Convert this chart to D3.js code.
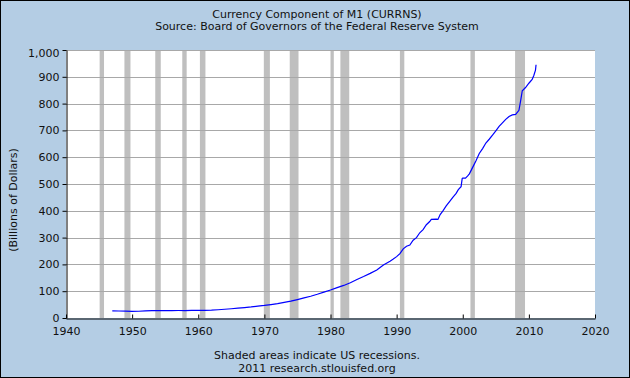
<!DOCTYPE html>
<html>
<head>
<meta charset="utf-8">
<script src="https://cdn.jsdelivr.net/npm/d3@7"></script>
<style>
  body { margin: 0; }
  svg text { font-family: "DejaVu Sans", Verdana, sans-serif; font-size: 11px; fill: #111; }
</style>
</head>
<body>
<div id="chart"></div>
<script>
var width = 630, height = 378;

// currency component of M1, billions of dollars
var dates = ['1947-01','1948-01','1949-01','1950-01','1951-01','1952-01','1953-01','1954-01','1955-01','1956-01',
  '1957-01','1958-01','1959-01','1960-01','1961-01','1962-01','1963-01','1964-01','1965-01','1966-01',
  '1967-01','1968-01','1969-01','1970-01','1971-01','1972-01','1973-01','1974-01','1975-01','1976-01',
  '1977-01','1978-01','1979-01','1980-01','1981-01','1982-01','1983-01','1984-01','1985-01','1986-01',
  '1987-01','1988-01','1989-01','1989-07','1990-01','1990-07','1991-01','1991-07','1992-01','1992-07',
  '1993-01','1993-07','1994-01','1994-07','1995-01','1995-04','1996-01','1996-04','1996-08','1997-01',
  '1997-07','1998-01','1998-07','1999-01','1999-05','1999-10','1999-12','2000-01','2000-06','2000-10',
  '2001-01','2001-07','2002-01','2002-07','2003-01','2003-07','2004-01','2004-07','2005-01','2005-07',
  '2006-01','2006-07','2007-01','2007-07','2008-01','2008-07','2008-10','2009-01','2009-07','2010-01',
  '2010-07','2010-10','2011-01','2011-02'];
var values = [26.5,26.2,25.6,25.0,25.1,26.3,27.2,27.5,27.3,27.8,
  28.0,27.8,28.5,28.6,28.6,29.4,30.8,32.6,34.6,36.8,
  38.8,41.2,44.2,46.8,50.0,53.4,58.0,63.0,68.8,74.8,
  81.3,88.6,96.8,104.6,113.5,121.5,131.6,143.6,154.6,166.4,
  179.0,198.0,212.0,220.0,229.0,240.0,258.0,268.0,272.0,290.0,
  300.0,318.0,330.0,348.0,360.0,368.0,369.0,368.0,386.0,400.0,
  418.0,434.0,450.0,465.0,479.0,490.0,520.0,522.0,522.0,530.0,
  538.0,562.0,587.0,614.0,632.0,653.0,667.0,682.0,698.0,715.0,
  728.0,741.0,752.0,758.0,760.0,775.0,810.0,848.0,860.0,876.0,
  890.0,905.0,925.0,945.0];

// NBER recessions
var recStart = ['1945-02','1948-11','1953-07','1957-08','1960-04','1969-12','1973-11','1980-01','1981-07','1990-07','2001-03','2007-12'];
var recEnd   = ['1945-10','1949-10','1954-05','1958-04','1961-02','1970-11','1975-03','1980-07','1982-11','1991-03','2001-11','2009-06'];

var yTicks = [0,100,200,300,400,500,600,700,800,900,1000];
var xTicks = [1940,1950,1960,1970,1980,1990,2000,2010,2020];

var parse = d3.timeParse('%Y-%m');

var svg = d3.select('#chart').append('svg')
  .attr('width', width)
  .attr('height', height);

svg.append('rect')
  .attr('x', 0.5).attr('y', 0.5)
  .attr('width', width - 1).attr('height', height - 1)
  .attr('fill', '#b4cde4')
  .attr('stroke', '#000');

var plotLeft = 66, plotRight = 595, plotTop = 50, plotBottom = 318;

var x = d3.scaleTime()
  .domain([new Date(1940, 0, 1), new Date(2020, 0, 1)])
  .range([plotLeft, plotRight]);

var y = d3.scaleLinear()
  .domain([0, 1000])
  .range([plotBottom, plotTop]);

// plot background
svg.append('rect')
  .attr('x', plotLeft).attr('y', plotTop)
  .attr('width', plotRight - plotLeft).attr('height', plotBottom - plotTop)
  .attr('fill', '#fff');

// recession bars
svg.append('g').selectAll('rect')
  .data(recStart)
  .enter().append('rect')
  .attr('x', (d)=> x(parse(d)))
  .attr('y', plotTop)
  .attr('width', (d, i)=> x(parse(recEnd[i])) - x(parse(d)))
  .attr('height', plotBottom - plotTop)
  .attr('fill', '#bfbfbf');

// gridlines
svg.append('g').selectAll('line')
  .data(yTicks.slice(1))
  .enter().append('line')
  .attr('x1', plotLeft).attr('x2', plotRight)
  .attr('y1', (d)=> Math.round(y(d)) + 0.5)
  .attr('y2', (d)=> Math.round(y(d)) + 0.5)
  .attr('stroke', '#a8a8a8')
  .attr('stroke-width', 1);

// the series
var pts = dates.map((d, i)=> ({date: parse(d), value: values[i]}));
var line = d3.line()
  .x((d)=> x(d.date))
  .y((d)=> y(d.value));

svg.append('path')
  .datum(pts)
  .attr('d', line)
  .attr('fill', 'none')
  .attr('stroke', '#0000ff')
  .attr('stroke-width', 1.2);

// axes
var yAxis = d3.axisLeft(y)
  .tickValues(yTicks)
  .tickSize(4)
  .tickSizeOuter(0)
  .tickPadding(3)
  .tickFormat(d3.format(','));

var gy = svg.append('g')
  .attr('transform', 'translate(' + (plotLeft + 0.5) + ',0)')
  .call(yAxis);
gy.selectAll('text').attr('font-family', null).attr('font-size', null)
  .attr('dy', (d)=> d === 1000 ? '0.62em' : '0.32em');

var xAxis = d3.axisBottom(x)
  .tickValues(xTicks.map((d)=> new Date(d, 0, 1)))
  .tickSize(-4)
  .tickSizeOuter(0)
  .tickPadding(9)
  .tickFormat(d3.timeFormat('%Y'));

var gx = svg.append('g')
  .attr('transform', 'translate(0,' + (plotBottom + 0.5) + ')')
  .call(xAxis);
gx.selectAll('text').attr('font-family', null).attr('font-size', null);

svg.selectAll('.domain, .tick line').attr('stroke', '#000');

// titles
svg.append('text')
  .attr('x', 317).attr('y', 17.5)
  .attr('text-anchor', 'middle')
  .text('Currency Component of M1 (CURRNS)');
svg.append('text')
  .attr('x', 317).attr('y', 30)
  .attr('text-anchor', 'middle')
  .text('Source: Board of Governors of the Federal Reserve System');

svg.append('text')
  .attr('transform', 'translate(16.5,200) rotate(-90)')
  .attr('text-anchor', 'middle')
  .text('(Billions of Dollars)');

svg.append('text')
  .attr('x', 317).attr('y', 359)
  .attr('text-anchor', 'middle')
  .text('Shaded areas indicate US recessions.');
svg.append('text')
  .attr('x', 317).attr('y', 372)
  .attr('text-anchor', 'middle')
  .text('2011 research.stlouisfed.org');
</script>
</body>
</html>
